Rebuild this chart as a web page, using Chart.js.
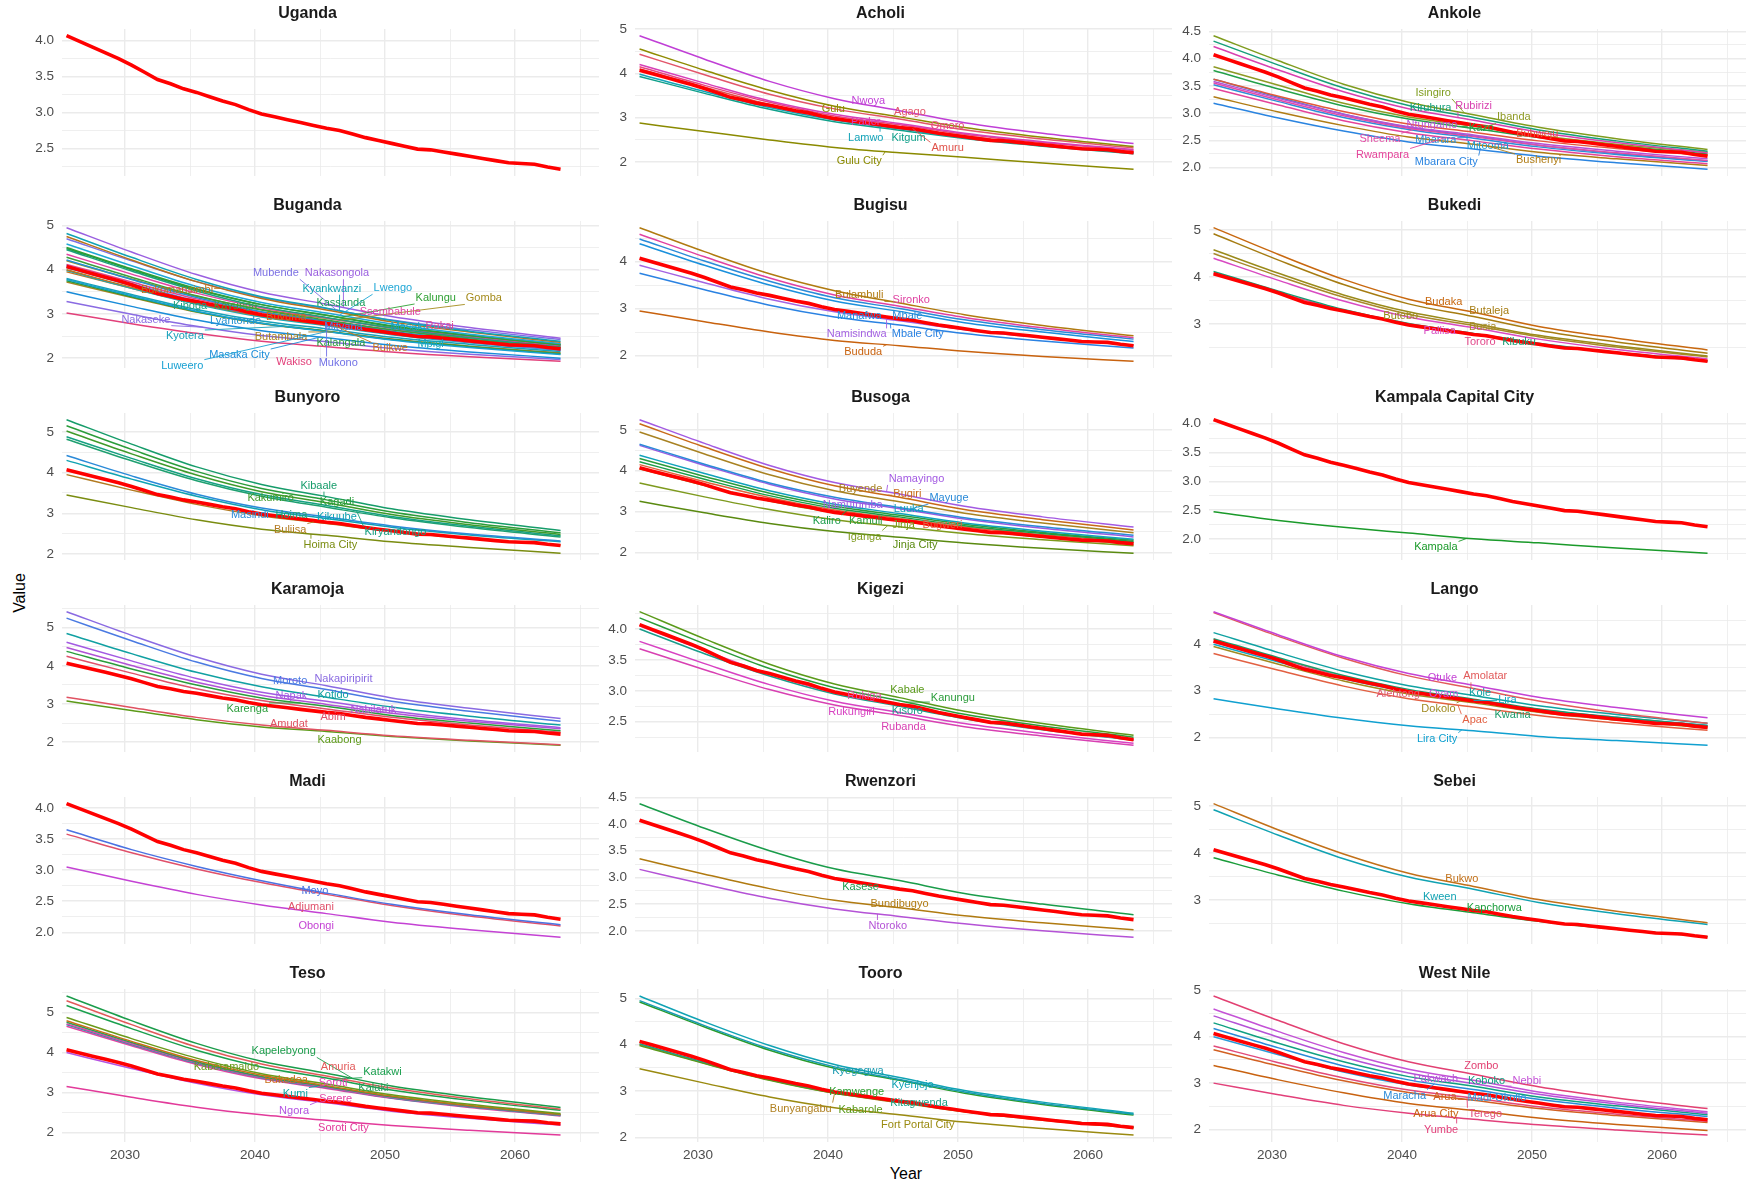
<!DOCTYPE html>
<html><head><meta charset="utf-8">
<script src="https://cdn.jsdelivr.net/npm/chart.js@4.4.1/dist/chart.umd.min.js"></script>
<style>
html,body{margin:0;padding:0;background:#fff;}
body{width:1754px;height:1187px;position:relative;overflow:hidden;font-family:"Liberation Sans",Arial,sans-serif;}
canvas{position:absolute;}
#yt{position:absolute;left:20px;top:593px;transform:translate(-50%,-50%) rotate(-90deg);font-size:16px;color:#000;white-space:nowrap;}
#xt{position:absolute;left:906px;top:1174px;transform:translate(-50%,-50%);font-size:16px;color:#000;}
</style></head>
<body>
<div id="yt">Value</div><div id="xt">Year</div>
<script>
// ---------------- DATA ----------------
const ugandaYears = [2025.5,2026.5,2027.5,2028.5,2029.5,2030.5,2031.5,2032.5,2033.5,2034.5,2035.5,2036.5,2037.5,2038.5,2039.5,2040.5,2041.5,2042.5,2043.5,2044.5,2045.5,2046.5,2047.5,2048.5,2049.5,2050.5,2051.5,2052.5,2053.5,2054.5,2055.5,2056.5,2057.5,2058.5,2059.5,2060.5,2061.5,2062.5,2063.5];
const ugandaValues = [4.07,3.99,3.91,3.83,3.75,3.66,3.56,3.46,3.40,3.33,3.28,3.22,3.16,3.11,3.04,2.98,2.94,2.90,2.86,2.82,2.78,2.75,2.70,2.65,2.61,2.57,2.53,2.49,2.48,2.45,2.42,2.39,2.36,2.33,2.30,2.29,2.28,2.24,2.21];
const years = [2025.5,2030.5,2035.5,2040.5,2045.5,2050.5,2056.5,2063.5];
const regionOrder = ['Uganda','Acholi','Ankole','Buganda','Bugisu','Bukedi','Bunyoro','Busoga','Kampala Capital City','Karamoja','Kigezi','Lango','Madi','Rwenzori','Sebei','Teso','Tooro','West Nile'];
const majorSteps = [0.5,1,0.5,1,1,1,1,1,0.5,1,0.5,1,0.5,0.5,1,1,1,1];
const xTickValues = [2030,2035,2040,2045,2050,2055,2060,2065];

const acholiNames = ['Nwoya','Gulu','Agago','Pader','Omoro','Amuru','Lamwo','Kitgum','Gulu City'];
const acholiValues = [
[4.85,4.32,3.82,3.43,3.16,2.89,2.65,2.42],[4.55,4.07,3.62,3.26,3.02,2.78,2.56,2.35],[4.43,3.97,3.53,3.20,2.97,2.73,2.52,2.32],
[4.20,3.78,3.38,3.08,2.87,2.65,2.46,2.28],[4.15,3.73,3.35,3.04,2.84,2.63,2.44,2.26],[4.10,3.69,3.30,3.00,2.80,2.59,2.40,2.22],
[3.98,3.59,3.23,2.95,2.75,2.55,2.38,2.21],[3.93,3.55,3.19,2.91,2.72,2.53,2.36,2.19],[2.88,2.69,2.50,2.33,2.21,2.11,1.98,1.84]];
const acholiLabels = [['Nwoya',2043.1,3.37,null],['Agago',2046.3,3.13,2044.8],['Gulu',2040.4,3.19,null],['Pader',2042.9,2.91,null],['Omoro',2049.2,2.81,null],['Lamwo',2042.9,2.55,2044],['Kitgum',2046.2,2.54,null],['Amuru',2049.2,2.31,2046.5],['Gulu City',2042.4,2.02,2044.4]];

const ankoleNames = ['Isingiro','Kiruhura','Rubirizi','Ibanda','Kazo','Buhweju','Ntungamo','Sheema','Mbarara','Mitooma','Rwampara','Bushenyi','Mbarara City'];
const ankoleValues = [
[4.42,3.96,3.53,3.20,2.97,2.74,2.53,2.33],[4.32,3.88,3.46,3.14,2.92,2.69,2.49,2.30],[4.22,3.79,3.39,3.08,2.87,2.65,2.46,2.27],
[3.85,3.51,3.18,2.93,2.76,2.59,2.43,2.28],[3.78,3.44,3.13,2.89,2.72,2.55,2.40,2.25],[3.62,3.31,3.03,2.80,2.65,2.49,2.35,2.22],
[3.58,3.27,2.98,2.75,2.60,2.44,2.30,2.16],[3.55,3.24,2.95,2.72,2.57,2.41,2.27,2.13],[3.52,3.21,2.92,2.70,2.54,2.38,2.24,2.11],
[3.62,3.29,2.98,2.74,2.58,2.41,2.26,2.12],[3.45,3.15,2.86,2.64,2.49,2.34,2.20,2.07],[3.30,3.02,2.77,2.56,2.43,2.28,2.16,2.04],
[3.18,2.91,2.67,2.47,2.34,2.21,2.09,1.97]];
const ankoleLabels = [['Isingiro',2042.4,3.37,2044.8],['Kiruhura',2042.2,3.09,null],['Rubirizi',2045.5,3.13,2044.3],['Ibanda',2048.6,2.92,2046.3],['Ntungamo',2042.3,2.78,null],['Kazo',2046.1,2.73,2044.6],['Buhweju',2050.4,2.62,null],['Sheema',2038.3,2.52,2041],['Mbarara',2042.6,2.50,2045.2],['Mitooma',2046.6,2.39,2045],['Rwampara',2038.5,2.24,2043.4],['Bushenyi',2050.5,2.14,2046.5],['Mbarara City',2043.4,2.11,2046]];

const bugandaNames = ['Nakasongola','Kyankwanzi','Bukomansimbi','Mubende','Lwengo','Kalungu','Kassanda','Kiboga','Ssembabule','Kayunga','Lyantonde','Gomba','Rakai','Mityana','Mukono','Masaka','Buvuma','Mpigi','Buikwe','Kyotera','Luweero','Kalangala','Butambala','Masaka City','Nakaseke','Wakiso'];
const bugandaValues = [
[4.95,4.40,3.89,3.49,3.22,2.94,2.69,2.45],[4.82,4.28,3.78,3.39,3.13,2.85,2.61,2.38],[4.75,4.22,3.73,3.35,3.09,2.82,2.59,2.36],
[4.70,4.20,3.73,3.37,3.12,2.86,2.64,2.42],[4.58,4.09,3.62,3.26,3.02,2.77,2.54,2.33],[4.50,4.02,3.57,3.21,2.97,2.73,2.51,2.30],
[4.48,4.00,3.55,3.21,2.97,2.72,2.51,2.30],[4.45,3.97,3.52,3.16,2.92,2.68,2.46,2.25],[4.35,3.90,3.47,3.14,2.91,2.68,2.48,2.28],
[4.28,3.83,3.41,3.09,2.86,2.64,2.43,2.24],[4.22,3.78,3.37,3.05,2.83,2.61,2.41,2.22],[4.20,3.79,3.40,3.10,2.90,2.69,2.50,2.32],
[4.12,3.72,3.34,3.04,2.84,2.64,2.46,2.28],[4.10,3.68,3.29,2.99,2.78,2.57,2.38,2.20],[4.08,3.66,3.27,2.97,2.76,2.55,2.36,2.18],
[4.05,3.64,3.26,2.97,2.77,2.56,2.38,2.20],[4.00,3.60,3.24,2.95,2.75,2.55,2.37,2.20],[3.98,3.58,3.22,2.93,2.73,2.53,2.35,2.18],
[3.95,3.58,3.23,2.96,2.77,2.58,2.41,2.25],[3.80,3.44,3.10,2.84,2.66,2.47,2.31,2.15],[3.78,3.41,3.06,2.79,2.60,2.41,2.24,2.08],
[3.75,3.39,3.05,2.79,2.61,2.42,2.26,2.10],[3.72,3.37,3.04,2.78,2.61,2.43,2.27,2.12],[3.50,3.17,2.86,2.62,2.46,2.29,2.14,2.00],
[3.28,2.99,2.72,2.51,2.37,2.22,2.09,1.97],[3.02,2.78,2.56,2.38,2.26,2.14,2.03,1.93]];
const bugandaLabels = [['Mubende',2041.6,3.92,2046.3],['Nakasongola',2046.3,3.92,2046.8],['Kyankwanzi',2045.9,3.57,2046.5],['Lwengo',2050.6,3.58,2046.5],['Bukomansimbi',2034.0,3.54,2037.5],['Kalungu',2053.9,3.36,2046.5],['Gomba',2057.6,3.35,2046.5],['Kassanda',2046.6,3.24,null],['Ssembabule',2050.4,3.04,null],['Kiboga',2035.0,3.19,null],['Kayunga',2038.5,3.19,null],['Buvuma',2042.4,2.93,null],['Nakaseke',2031.6,2.87,2036],['Lyantonde',2038.5,2.84,null],['Mityana',2046.8,2.71,null],['Masaka',2051.9,2.71,null],['Rakai',2054.2,2.72,null],['Kyotera',2034.6,2.50,2043.5],['Butambala',2042.0,2.47,2046],['Kalangala',2046.6,2.35,null],['Buikwe',2050.4,2.22,2046],['Mpigi',2053.5,2.31,null],['Masaka City',2038.8,2.07,2045],['Wakiso',2043.0,1.92,null],['Mukono',2046.4,1.90,2045.5],['Luweero',2034.4,1.83,2045.5]];

const bugisuNames = ['Bulambuli','Sironko','Mbale','Manafwa','Namisindwa','Mbale City','Bududa'];
const bugisuValues = [
[4.72,4.21,3.74,3.38,3.12,2.87,2.64,2.42],[4.58,4.10,3.65,3.29,3.05,2.81,2.59,2.38],[4.48,4.01,3.58,3.23,3.00,2.76,2.55,2.35],
[4.38,3.92,3.50,3.16,2.94,2.70,2.50,2.30],[3.92,3.55,3.20,2.93,2.74,2.55,2.38,2.22],[3.75,3.40,3.07,2.82,2.65,2.47,2.31,2.16],
[2.95,2.72,2.50,2.32,2.21,2.09,1.98,1.88]];
const bugisuLabels = [['Bulambuli',2042.4,3.28,2045],['Sironko',2046.4,3.18,null],['Manafwa',2042.4,2.85,null],['Mbale',2046.1,2.85,null],['Namisindwa',2042.2,2.45,2044.5],['Mbale City',2046.9,2.45,2044.8],['Bududa',2042.7,2.07,2044.5]];

const bukediNames = ['Budaka','Butaleja','Butebo','Busia','Pallisa','Kibuku','Tororo'];
const bukediValues = [
[5.05,4.48,3.95,3.53,3.25,2.95,2.70,2.45],[4.92,4.36,3.84,3.43,3.16,2.87,2.62,2.38],[4.58,4.08,3.62,3.26,3.01,2.76,2.54,2.32],
[4.50,4.02,3.57,3.21,2.97,2.73,2.51,2.30],[4.40,3.93,3.49,3.15,2.92,2.68,2.46,2.26],[4.12,3.70,3.31,3.01,2.80,2.59,2.40,2.22],
[4.08,3.67,3.29,2.99,2.78,2.57,2.39,2.21]];
const bukediLabels = [['Budaka',2043.2,3.46,null],['Butaleja',2046.7,3.27,null],['Butebo',2039.9,3.18,null],['Busia',2046.2,2.94,null],['Pallisa',2042.9,2.85,null],['Tororo',2046.0,2.63,null],['Kibuku',2049.0,2.63,null]];

const bunyoroNames = ['Kibaale','Kagadi','Kakumiro','Kiryandongo','Hoima','Masindi','Kikuube','Buliisa','Hoima City'];
const bunyoroValues = [
[5.30,4.70,4.14,3.71,3.41,3.11,2.84,2.58],[5.15,4.57,4.03,3.61,3.33,3.03,2.77,2.52],[5.02,4.46,3.94,3.53,3.26,2.97,2.72,2.48],
[4.88,4.35,3.85,3.46,3.19,2.92,2.68,2.45],[4.82,4.29,3.80,3.42,3.15,2.89,2.65,2.42],[4.42,3.92,3.47,3.13,2.91,2.69,2.49,2.32],
[4.30,3.84,3.42,3.09,2.87,2.66,2.47,2.30],[3.95,3.57,3.22,2.94,2.75,2.56,2.38,2.22],[3.45,3.14,2.84,2.61,2.46,2.30,2.16,2.02]];
const bunyoroLabels = [['Kibaale',2044.9,3.68,2045.3],['Kakumiro',2041.2,3.37,null],['Kagadi',2046.3,3.28,2045.3],['Masindi',2039.6,2.97,null],['Hoima',2042.8,2.97,null],['Kikuube',2046.3,2.92,null],['Buliisa',2042.7,2.60,2044.5],['Kiryandongo',2050.8,2.53,2047.8],['Hoima City',2045.8,2.23,2044.3]];

const busogaNames = ['Namayingo','Bugiri','Buyende','Mayuge','Namutumba','Luuka','Kamuli','Kaliro','Bugweri','Jinja','Iganga','Jinja City'];
const busogaValues = [
[5.25,4.67,4.13,3.71,3.43,3.13,2.87,2.62],[5.15,4.58,4.05,3.63,3.35,3.05,2.80,2.55],[4.95,4.41,3.90,3.51,3.24,2.96,2.72,2.48],
[4.65,4.16,3.70,3.35,3.10,2.85,2.63,2.42],[4.62,4.13,3.67,3.31,3.07,2.82,2.59,2.38],[4.38,3.93,3.51,3.18,2.95,2.72,2.52,2.32],
[4.30,3.86,3.45,3.13,2.91,2.69,2.49,2.30],[4.22,3.79,3.39,3.08,2.87,2.65,2.46,2.27],[4.15,3.73,3.34,3.04,2.83,2.62,2.43,2.25],
[4.05,3.64,3.26,2.97,2.77,2.56,2.38,2.20],[3.70,3.36,3.05,2.80,2.63,2.46,2.31,2.16],[3.25,2.97,2.71,2.51,2.37,2.23,2.10,1.98]];
const busogaLabels = [['Namayingo',2046.8,3.80,2044.5],['Buyende',2042.5,3.55,null],['Bugiri',2046.1,3.43,2044.6],['Mayuge',2049.3,3.33,2046.3],['Namutumba',2041.9,3.15,null],['Luuka',2046.2,3.07,null],['Kaliro',2039.9,2.77,2041.5],['Kamuli',2042.9,2.77,null],['Jinja',2045.8,2.66,null],['Bugweri',2048.8,2.68,null],['Iganga',2042.8,2.39,2044.6],['Jinja City',2046.7,2.19,2044.8]];

const kampalaNames = ['Kampala'];
const kampalaValues = [[2.47,2.32,2.20,2.10,2.00,1.93,1.84,1.75]];
const kampalaLabels = [['Kampala',2042.6,1.85,2045]];

const karamojaNames = ['Nakapiripirit','Moroto','Kotido','Napak','Nabilatuk','Karenga','Abim','Amudat','Kaabong'];
const karamojaValues = [
[5.42,4.80,4.23,3.78,3.48,3.16,2.89,2.62],[5.25,4.66,4.10,3.67,3.38,3.07,2.81,2.55],[4.85,4.32,3.83,3.45,3.18,2.92,2.68,2.45],
[4.62,4.13,3.67,3.31,3.07,2.82,2.59,2.38],[4.48,4.01,3.57,3.23,2.99,2.76,2.55,2.35],[4.38,3.92,3.50,3.16,2.94,2.70,2.50,2.30],
[4.25,3.81,3.40,3.09,2.87,2.65,2.45,2.26],[3.18,2.91,2.65,2.45,2.31,2.17,2.05,1.93],[3.08,2.83,2.59,2.40,2.28,2.15,2.03,1.92]];
const karamojaLabels = [['Moroto',2042.7,3.61,null],['Nakapiripirit',2046.8,3.66,2044.8],['Napak',2042.8,3.22,null],['Kotido',2046.0,3.24,2045.2],['Nabilatuk',2049.1,2.84,null],['Karenga',2039.4,2.87,2043.5],['Abim',2046.0,2.67,null],['Amudat',2042.6,2.47,null],['Kaabong',2046.5,2.06,2045]];

const kigeziNames = ['Kabale','Kanungu','Rukiga','Kisoro','Rukungiri','Rubanda'];
const kigeziValues = [
[4.28,3.84,3.43,3.11,2.89,2.67,2.47,2.28],[4.18,3.76,3.36,3.05,2.84,2.62,2.43,2.25],[4.05,3.65,3.27,2.97,2.77,2.57,2.38,2.21],
[4.00,3.60,3.24,2.95,2.75,2.55,2.37,2.20],[3.80,3.44,3.10,2.83,2.65,2.47,2.31,2.15],[3.68,3.34,3.02,2.77,2.60,2.42,2.27,2.12]];
const kigeziLabels = [['Kabale',2046.1,3.02,2044.6],['Kanungu',2049.6,2.88,2046],['Rukiga',2042.8,2.91,null],['Kisoro',2046.1,2.67,null],['Rukungiri',2041.8,2.65,null],['Rubanda',2045.8,2.42,null]];

const langoNames = ['Otuke','Amolatar','Kole','Kwania','Alebtong','Oyam','Lira','Dokolo','Apac','Lira City'];
const langoValues = [
[4.70,4.20,3.73,3.37,3.12,2.86,2.64,2.42],[4.68,4.17,3.70,3.32,3.05,2.78,2.53,2.30],[4.25,3.82,3.42,3.11,2.90,2.68,2.49,2.30],
[4.12,3.71,3.33,3.03,2.82,2.61,2.43,2.25],[4.10,3.69,3.30,3.00,2.80,2.59,2.40,2.22],[4.05,3.65,3.28,2.99,2.79,2.59,2.41,2.24],
[4.00,3.62,3.26,2.98,2.79,2.60,2.43,2.26],[3.95,3.57,3.21,2.93,2.74,2.54,2.37,2.20],[3.80,3.44,3.10,2.83,2.65,2.47,2.31,2.15],
[2.83,2.61,2.41,2.25,2.14,2.02,1.93,1.83]];
const langoLabels = [['Otuke',2043.1,3.27,null],['Amolatar',2046.4,3.31,2045.3],['Kole',2046.0,2.96,null],['Alebtong',2039.7,2.93,null],['Oyam',2043.2,2.93,null],['Lira',2048.1,2.81,2045.5],['Dokolo',2042.8,2.61,2044.5],['Kwania',2048.5,2.47,null],['Apac',2045.6,2.37,2044.3],['Lira City',2042.7,1.97,2044.6]];

const madiNames = ['Moyo','Adjumani','Obongi'];
const madiValues = [[3.65,3.33,3.06,2.83,2.63,2.45,2.28,2.12],[3.58,3.28,3.02,2.80,2.61,2.43,2.26,2.10],[3.05,2.82,2.61,2.44,2.30,2.16,2.04,1.92]];
const madiLabels = [['Moyo',2044.6,2.67,null],['Adjumani',2044.3,2.40,null],['Obongi',2044.7,2.10,null]];

const rwenzoriNames = ['Kasese','Bundibugyo','Ntoroko'];
const rwenzoriValues = [[4.38,3.92,3.50,3.16,2.94,2.70,2.50,2.30],[3.35,3.06,2.79,2.57,2.43,2.28,2.15,2.02],[3.15,2.87,2.61,2.41,2.27,2.13,2.00,1.88]];
const rwenzoriLabels = [['Kasese',2042.5,2.82,null],['Bundibugyo',2045.5,2.51,null],['Ntoroko',2044.6,2.09,2043.8]];

const sebeiNames = ['Bukwo','Kween','Kapchorwa'];
const sebeiValues = [[5.05,4.49,3.98,3.57,3.29,3.01,2.76,2.52],[4.92,4.38,3.88,3.49,3.23,2.95,2.71,2.48],[3.90,3.53,3.19,2.92,2.73,2.55,2.38,2.22]];
const sebeiLabels = [['Bukwo',2044.6,3.44,null],['Kween',2042.9,3.07,null],['Kapchorwa',2047.1,2.83,null]];

const tesoNames = ['Kapelebyong','Amuria','Katakwi','Kaberamaido','Bukedea','Kalaki','Soroti','Kumi','Serere','Ngora','Soroti City'];
const tesoValues = [
[5.42,4.80,4.23,3.78,3.48,3.16,2.89,2.62],[5.30,4.70,4.14,3.71,3.41,3.11,2.84,2.58],[5.18,4.60,4.06,3.64,3.36,3.06,2.80,2.55],
[4.88,4.35,3.86,3.47,3.21,2.94,2.70,2.47],[4.80,4.28,3.80,3.43,3.17,2.91,2.67,2.45],[4.76,4.25,3.77,3.40,3.15,2.89,2.66,2.44],
[4.72,4.22,3.75,3.38,3.13,2.87,2.65,2.43],[4.70,4.20,3.73,3.37,3.12,2.86,2.64,2.42],[4.66,4.17,3.70,3.34,3.10,2.85,2.62,2.41],
[4.00,3.60,3.23,2.94,2.74,2.53,2.35,2.18],[3.15,2.88,2.63,2.44,2.30,2.17,2.05,1.93]];
const tesoLabels = [['Kapelebyong',2042.2,4.03,2047.5],['Amuria',2046.4,3.65,2045.2],['Katakwi',2049.8,3.52,2046],['Kaberamaido',2037.8,3.64,null],['Bukedea',2042.4,3.32,null],['Soroti',2046.0,3.24,null],['Kalaki',2049.1,3.11,null],['Kumi',2043.1,2.97,2044.8],['Serere',2046.2,2.83,null],['Ngora',2043.0,2.54,2044.8],['Soroti City',2046.8,2.11,2045]];

const tooroNames = ['Kyenjojo','Kyegegwa','Kamwenge','Kitagwenda','Kabarole','Bunyangabu','Fort Portal City'];
const tooroValues = [
[5.05,4.49,3.98,3.57,3.29,3.01,2.76,2.52],[4.95,4.41,3.91,3.52,3.25,2.98,2.73,2.50],[4.92,4.38,3.88,3.49,3.23,2.95,2.71,2.48],
[4.02,3.62,3.26,2.97,2.77,2.57,2.39,2.22],[3.98,3.59,3.23,2.95,2.76,2.56,2.39,2.22],[4.00,3.60,3.24,2.95,2.75,2.55,2.37,2.20],
[3.48,3.17,2.87,2.64,2.49,2.33,2.19,2.05]];
const tooroLabels = [['Kyegegwa',2042.3,3.43,2044.5],['Kyenjojo',2046.5,3.12,2044.6],['Kamwenge',2042.2,2.98,null],['Kitagwenda',2047.0,2.75,2044.5],['Bunyangabu',2037.9,2.62,2040.5],['Kabarole',2042.5,2.60,null],['Fort Portal City',2046.9,2.26,null]];

const westNileNames = ['Zombo','Nebbi','Pakwach','Koboko','Maracha','Madi-Okollo','Terego','Arua','Arua City','Yumbe'];
const westNileValues = [
[4.88,4.35,3.85,3.46,3.19,2.92,2.68,2.45],[4.60,4.11,3.66,3.30,3.06,2.81,2.59,2.38],[4.45,3.99,3.56,3.22,2.99,2.76,2.55,2.35],
[4.30,3.86,3.46,3.14,2.93,2.70,2.51,2.32],[4.18,3.76,3.37,3.07,2.86,2.65,2.46,2.28],[4.00,3.61,3.24,2.96,2.77,2.57,2.39,2.22],
[3.80,3.44,3.11,2.85,2.68,2.49,2.33,2.18],[3.72,3.37,3.05,2.80,2.63,2.45,2.30,2.15],[3.38,3.07,2.79,2.56,2.41,2.25,2.11,1.98],
[3.00,2.75,2.52,2.35,2.22,2.10,1.99,1.88]];
const westNileLabels = [['Zombo',2046.1,3.38,2045.5],['Pakwach',2042.6,3.09,null],['Koboko',2046.5,3.04,2045.4],['Nebbi',2049.6,3.04,2048],['Maracha',2040.2,2.73,2042.5],['Arua',2043.3,2.70,2045],['Madi-Okollo',2047.3,2.69,null],['Arua City',2042.6,2.34,2044.6],['Terego',2046.4,2.34,2045],['Yumbe',2043.0,2.00,2044.2]];

// ---------------- STYLES ----------------
const districtColors = {
 'Nwoya':'#c03fd6','Gulu':'#8f8a00','Agago':'#e2556a','Pader':'#d63fb8','Omoro':'#e8457f','Amuru':'#e0524a','Lamwo':'#13a3b8','Kitgum':'#0fa08a','Gulu City':'#8a8a00',
 'Isingiro':'#7f9c1e','Kiruhura':'#159e7a','Rubirizi':'#d940b0','Ibanda':'#8e9a24','Kazo':'#23a04a','Buhweju':'#e4573b','Ntungamo':'#b84fd6','Sheema':'#e34ba6','Mbarara':'#2a8fd8','Mitooma':'#1a9ad2','Rwampara':'#e4449a','Bushenyi':'#b07c14','Mbarara City':'#2a84e0',
 'Nakasongola':'#9a5fe0','Kyankwanzi':'#11a2b4','Bukomansimbi':'#b97318','Mubende':'#7c70e4','Lwengo':'#1fa7d6','Kalungu':'#2fa033','Kassanda':'#1a9c58','Kiboga':'#1da07e','Ssembabule':'#e244a3','Kayunga':'#3aa03c','Lyantonde':'#2191d2','Gomba':'#a48b1c','Rakai':'#e0468e','Mityana':'#4c82e2','Mukono':'#7272e6','Masaka':'#12a2c2','Buvuma':'#c2721e','Mpigi':'#17a9ba','Buikwe':'#c6711c','Kyotera':'#17a1bb','Luweero':'#17a0d2','Kalangala':'#2a9c3a','Butambala':'#a88222','Masaka City':'#1a8cd8','Nakaseke':'#8a6be2','Wakiso':'#e2407a',
 'Bulambuli':'#b07a10','Sironko':'#e042a2','Mbale':'#2a8ad8','Manafwa':'#1a90dc','Namisindwa':'#a463e2','Mbale City':'#2a82e2','Bududa':'#c8620e',
 'Budaka':'#c8680f','Butaleja':'#a67c12','Butebo':'#9a8a1a','Busia':'#a8882a','Pallisa':'#d84ac2','Kibuku':'#159c70','Tororo':'#e2488a',
 'Kibaale':'#169c6a','Kagadi':'#2a9c3a','Kakumiro':'#3f9a2a','Kiryandongo':'#16a082','Hoima':'#1fa070','Masindi':'#2a8ad8','Kikuube':'#10a2b2','Buliisa':'#b27a20','Hoima City':'#7a8c10',
 'Nakapiripirit':'#8a6ae2','Moroto':'#4a7ae2','Kotido':'#10a0a2','Napak':'#a35ae2','Nabilatuk':'#b052d6','Karenga':'#2a9c3a','Abim':'#e0506a','Amudat':'#e05262','Kaabong':'#5c9a18',
 'Namayingo':'#a35ae2','Bugiri':'#c86a18','Buyende':'#a88222','Mayuge':'#2a8ad8','Namutumba':'#9a5ae2','Luuka':'#10a2ba','Kamuli':'#2a9c3a','Kaliro':'#1a9c4a','Bugweri':'#e2603a','Jinja':'#7a9a1a','Iganga':'#7e9a1e','Jinja City':'#5a8a10',
 'Kampala':'#1a9a2a',
 'Kabale':'#5a9a1a','Kanungu':'#2a9c3a','Rukiga':'#e04aa2','Kisoro':'#1a9c8a','Rukungiri':'#d842c2','Rubanda':'#d840b2',
 'Otuke':'#c442d4','Amolatar':'#e25a5a','Kole':'#10a2a2','Kwania':'#1a9c6a','Alebtong':'#e05a72','Oyam':'#c852d4','Lira':'#10a8c2','Dokolo':'#a08a20','Apac':'#e26042','Lira City':'#10a0d0',
 'Moyo':'#4a72e2','Adjumani':'#e0506a','Obongi':'#c442d4',
 'Kasese':'#1a9c4a','Bundibugyo':'#b07a10','Ntoroko':'#b452d6',
 'Bukwo':'#c27018','Kween':'#10a2b2','Kapchorwa':'#1a9c3a',
 'Kapelebyong':'#1a9c4a','Amuria':'#e25a5a','Katakwi':'#1aa04e','Kaberamaido':'#6a9a1a','Bukedea':'#c87018','Kalaki':'#2a9c5a','Soroti':'#e242b2','Kumi':'#10a2a2','Serere':'#e242a2','Ngora':'#b452e2','Soroti City':'#e23a9a',
 'Kyenjojo':'#10a2b4','Kyegegwa':'#1a9ab0','Kamwenge':'#2a9c2a','Kitagwenda':'#1aa082','Kabarole':'#5a9a1a','Bunyangabu':'#b08020','Fort Portal City':'#9a8a10',
 'Zombo':'#e24072','Nebbi':'#c452d6','Pakwach':'#b452d6','Koboko':'#10a082','Maracha':'#2a8ad8','Madi-Okollo':'#2a9ad8','Terego':'#e24a7a','Arua':'#d26022','Arua City':'#c86210','Yumbe':'#e2407a'
};

const regionTables = {
 'Uganda':[[],[],[]],
 'Acholi':[acholiNames,acholiValues,acholiLabels],'Ankole':[ankoleNames,ankoleValues,ankoleLabels],
 'Buganda':[bugandaNames,bugandaValues,bugandaLabels],'Bugisu':[bugisuNames,bugisuValues,bugisuLabels],
 'Bukedi':[bukediNames,bukediValues,bukediLabels],'Bunyoro':[bunyoroNames,bunyoroValues,bunyoroLabels],
 'Busoga':[busogaNames,busogaValues,busogaLabels],'Kampala Capital City':[kampalaNames,kampalaValues,kampalaLabels],
 'Karamoja':[karamojaNames,karamojaValues,karamojaLabels],'Kigezi':[kigeziNames,kigeziValues,kigeziLabels],
 'Lango':[langoNames,langoValues,langoLabels],'Madi':[madiNames,madiValues,madiLabels],
 'Rwenzori':[rwenzoriNames,rwenzoriValues,rwenzoriLabels],'Sebei':[sebeiNames,sebeiValues,sebeiLabels],
 'Teso':[tesoNames,tesoValues,tesoLabels],'Tooro':[tooroNames,tooroValues,tooroLabels],'West Nile':[westNileNames,westNileValues,westNileLabels]
};

// ---------------- LAYOUT ----------------
const FONT = '"Liberation Sans", Arial, Helvetica, sans-serif';
const AREA_LEFT0 = 62, COL_STEP = 573.3, AREA_TOP0 = 29.3, ROW_STEP = 192;
const AREA_W = 537, AREA_H = 153, Y_W = 46, TITLE_H = 28, X_H = 30, PAD_B = 10;
const XMIN = 2025.15, XMAX = 2025.15 + 537/13;

function interp(xs, ys, x) {
  for (let i = 0; i < xs.length - 1; i++) {
    if (x >= xs[i] && x <= xs[i+1]) {
      const t = (x - xs[i]) / (xs[i+1] - xs[i]);
      return ys[i] + t * (ys[i+1] - ys[i]);
    }
  }
  return ys[ys.length-1];
}

const labelPlugin = {
  id: 'districtLabels',
  afterDatasetsDraw(chart, args, opts) {
    const spots = opts.spots || [];
    if (!spots.length) return;
    const ctx = chart.ctx, xs = chart.scales.x, ys = chart.scales.y;
    ctx.save();
    ctx.font = '11px ' + FONT;
    ctx.textAlign = 'center';
    ctx.textBaseline = 'middle';
    spots.forEach(([name, lx, ly, ax]) => {
      const col = districtColors[name] || '#555';
      const px = xs.getPixelForValue(lx), py = ys.getPixelForValue(ly);
      if (ax !== null && opts.series[name]) {
        const ay = interp(years, opts.series[name], ax);
        const qx = xs.getPixelForValue(ax), qy = ys.getPixelForValue(ay);
        const hw = ctx.measureText(name).width / 2 + 1, hh = 6;
        const sx = Math.max(px - hw, Math.min(qx, px + hw));
        const sy = Math.max(py - hh, Math.min(qy, py + hh));
        if (Math.hypot(qx - sx, qy - sy) > 3) {
          ctx.strokeStyle = col; ctx.lineWidth = 0.9;
          ctx.beginPath(); ctx.moveTo(sx, sy); ctx.lineTo(qx, qy); ctx.stroke();
        }
      }
      ctx.fillStyle = col;
      ctx.fillText(name, px, py);
    });
    ctx.restore();
  }
};

regionOrder.forEach((region, i) => {
  const r = Math.floor(i / 3), c = i % 3;
  const bottomRow = r === 5;
  const areaL = Math.round(AREA_LEFT0 + c * COL_STEP);
  const areaT = Math.round(AREA_TOP0 + r * ROW_STEP);
  const [names, vals, spots] = regionTables[region];
  const W = Y_W + AREA_W + Y_W;
  const H = TITLE_H + AREA_H + (bottomRow ? X_H : PAD_B);
  const cv = document.createElement('canvas');
  cv.width = W; cv.height = H;
  cv.style.left = (areaL - Y_W) + 'px';
  cv.style.top = (areaT - TITLE_H) + 'px';
  cv.style.width = W + 'px'; cv.style.height = H + 'px';
  document.body.appendChild(cv);

  let lo = Math.min(...ugandaValues), hi = Math.max(...ugandaValues);
  vals.forEach(v => { lo = Math.min(lo, ...v); hi = Math.max(hi, ...v); });
  const span = hi - lo;
  const ymin = lo - 0.05 * span, ymax = hi + 0.05 * span;
  const step = majorSteps[i], minor = step / 2, dec = step < 1 ? 1 : 0;

  const series = {};
  names.forEach((n, k) => { series[n] = vals[k]; });

  const datasets = [{
    label: 'Uganda',
    data: ugandaYears.map((x, k) => ({x, y: ugandaValues[k]})),
    borderColor: '#ff0000', borderWidth: 3.6, pointRadius: 0, tension: 0
  }];
  names.forEach((n, k) => {
    datasets.push({
      label: n,
      data: years.map((x, j) => ({x, y: vals[k][j]})),
      borderColor: districtColors[n] || '#888', borderWidth: 1.5, pointRadius: 0,
      cubicInterpolationMode: 'monotone'
    });
  });

  new Chart(cv, {
    type: 'line',
    data: { datasets },
    plugins: [labelPlugin],
    options: {
      responsive: false, animation: false, devicePixelRatio: 1,
      layout: { padding: { left: 0, right: Y_W, top: 0, bottom: bottomRow ? 0 : PAD_B } },
      plugins: {
        legend: { display: false }, tooltip: { enabled: false },
        title: { display: true, text: region, color: '#1a1a1a',
                 font: { family: FONT, size: 16, weight: 'bold', lineHeight: 1.125 },
                 padding: { top: 4, bottom: 6 } },
        districtLabels: { spots, series }
      },
      scales: {
        x: {
          type: 'linear', min: XMIN, max: XMAX,
          afterBuildTicks: s => { s.ticks = xTickValues.filter(v => v >= XMIN && v <= XMAX).map(v => ({value: v})); },
          afterFit: s => { s.height = bottomRow ? X_H : 0; },
          ticks: { display: bottomRow, autoSkip: false, maxRotation: 0, padding: 5, color: '#4d4d4d',
                   font: { family: FONT, size: 13.5 },
                   callback: v => (Math.abs(v % 10) < 1e-6 ? String(v) : '') },
          grid: { color: '#ebebeb', drawTicks: false,
                  lineWidth: ctx => (ctx.tick && Math.abs(ctx.tick.value % 10) < 1e-6) ? 1.4 : 0.8 },
          border: { display: false }
        },
        y: {
          type: 'linear', min: ymin, max: ymax,
          afterBuildTicks: s => {
            const t = [];
            for (let v = Math.ceil(ymin / minor - 1e-9) * minor; v <= ymax + 1e-9; v += minor) t.push({value: Math.round(v * 1000) / 1000});
            s.ticks = t;
          },
          afterFit: s => { s.width = Y_W; },
          ticks: { autoSkip: false, padding: 8, color: '#4d4d4d', font: { family: FONT, size: 13.5 },
                   callback: v => (Math.abs(v / step - Math.round(v / step)) < 1e-6 ? v.toFixed(dec) : '') },
          grid: { color: '#ebebeb', drawTicks: false,
                  lineWidth: ctx => (ctx.tick && Math.abs(ctx.tick.value / step - Math.round(ctx.tick.value / step)) < 1e-6) ? 1.4 : 0.8 },
          border: { display: false }
        }
      }
    }
  });
});
</script>
</body></html>
